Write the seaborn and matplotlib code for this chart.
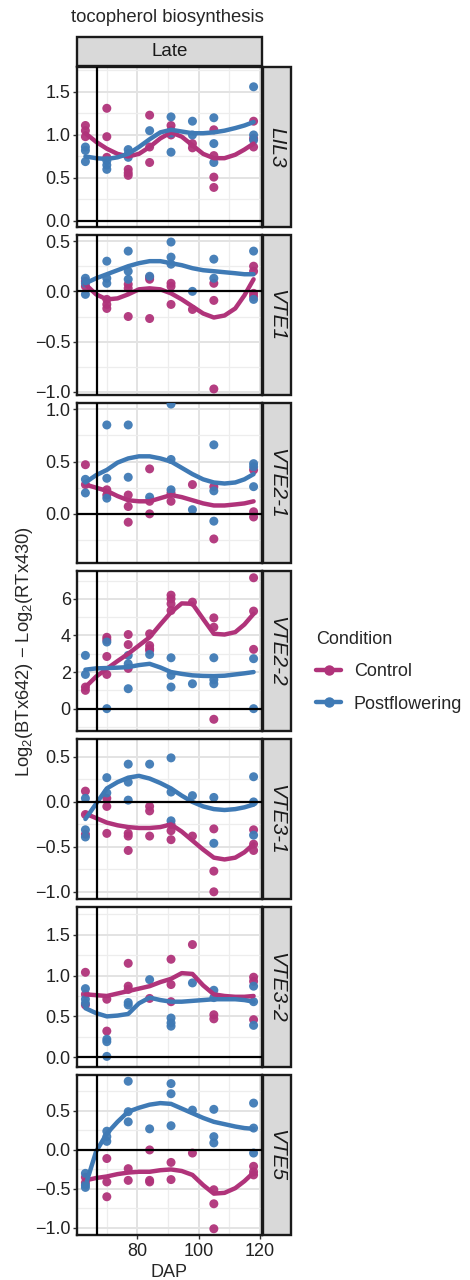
import pandas as pd
import matplotlib
matplotlib.use("Agg")
import matplotlib.pyplot as plt
import seaborn as sns
from matplotlib.patches import Rectangle
from matplotlib.lines import Line2D
from matplotlib.ticker import FixedLocator, FuncFormatter

DAP = [63, 70, 77, 84, 91, 98, 105, 118]
FIT_DAP = [63, 66.5, 70, 73.5, 77, 80.5, 84, 87.5, 91, 94.5, 98, 101.5, 105, 108.5, 112, 115, 118]

GENES = ["LIL3", "VTE1", "VTE2-1", "VTE2-2", "VTE3-1", "VTE3-2", "VTE5"]

# observed points, one list per DAP
LIL3_CTRL = [[1.11, 1.05, 0.98], [1.31, 0.98, 0.74], [0.60, 0.56, 0.53], [1.23, 0.86, 0.68],
             [1.11, 1.05, 1.00], [0.85, 0.90], [1.06, 0.76, 0.51, 0.39], [1.16, 0.96, 0.86]]
LIL3_POST = [[0.86, 0.82, 0.69], [0.70, 0.65, 0.60], [0.83, 0.78, 0.74], [1.05],
             [1.21, 1.02, 0.80], [1.16, 1.00], [1.20, 0.90, 0.68], [1.56, 1.00, 0.94]]
VTE1_CTRL = [[0.10, 0.05], [-0.08, -0.17, -0.13], [0.07, 0.03, -0.25], [0.14, 0.12, -0.27],
             [0.08, 0.05, -0.13], [-0.18], [0.08, -0.09, -0.97], [0.25, 0.20, -0.02, -0.05]]
VTE1_POST = [[0.13, 0.08, -0.03], [0.30, 0.13, 0.08], [0.40, 0.20, 0.12], [0.15],
             [0.49, 0.34, 0.27], [0.00], [0.32, 0.13], [0.40, -0.08]]
VTE2_1_CTRL = [[0.47, 0.28], [0.23, 0.18], [0.18, 0.07, -0.08], [0.43, 0.12, 0.00],
               [0.20, 0.12], [0.28], [0.26, -0.24], [0.42, 0.02, -0.03]]
VTE2_1_POST = [[0.33, 0.20], [0.85, 0.34, 0.15], [0.85, 0.35], [0.16],
               [1.05, 0.52, 0.23], [0.04], [0.66, 0.22, -0.07], [0.48, 0.45, 0.26]]
VTE2_2_CTRL = [[1.18, 1.00], [3.90, 3.76, 2.85, 1.87], [4.05, 3.50, 2.20], [4.09, 3.45, 3.27, 3.18],
               [6.20, 6.00, 5.73, 5.36], [5.82], [4.96, 4.45, -0.58], [7.15, 5.33, 3.24]]
VTE2_2_POST = [[2.91, 1.87], [3.64, 0.00], [2.91, 2.45, 1.09], [2.96],
               [2.78, 1.82, 1.18], [1.36], [2.78, 1.58, 1.36], [2.73, 0.00]]
VTE3_1_CTRL = [[0.12, -0.14, -0.36], [0.04, -0.05, -0.35], [-0.35, -0.38, -0.54], [-0.05, -0.10, -0.38],
               [-0.25, -0.32, -0.42], [-0.38], [-0.30, -0.77, -1.00], [-0.31, -0.47, -0.54]]
VTE3_1_POST = [[0.04, -0.31, -0.39], [0.27, 0.10], [0.42, 0.22, 0.02], [0.42],
               [0.49, 0.11, -0.21], [0.07], [0.05, -0.46], [0.28, 0.00, -0.37]]
VTE3_2_CTRL = [[1.04, 0.77, 0.64], [0.71, 0.32], [1.15, 0.87, 0.83], [0.72],
               [1.20, 0.89, 0.68], [1.38], [0.52, 0.47], [0.98, 0.93, 0.46]]
VTE3_2_POST = [[0.84, 0.71, 0.66], [0.22, 0.19, 0.01], [0.67, 0.64], [0.95],
               [0.48, 0.42, 0.38], [0.91], [0.82, 0.73], [0.87, 0.68, 0.39]]
VTE5_CTRL = [[-0.35, -0.42], [-0.11, -0.41, -0.60], [-0.24, -0.39], [0.00, -0.39, -0.41],
             [-0.16, -0.38], [-0.04], [-0.51, -0.69, -1.01], [-0.21, -0.28, -0.32]]
VTE5_POST = [[-0.30, -0.45, -0.48], [0.24, 0.17, 0.11], [0.88, 0.49, 0.36], [0.27],
             [0.85, 0.72, 0.31], [0.51], [0.52, 0.17, 0.09], [0.60, 0.28, -0.04]]

# smooth curves (values at FIT_DAP)
LIL3_CTRL_FIT = [1.02, 0.92, 0.84, 0.78, 0.75, 0.78, 0.86, 0.96, 1.03, 0.98, 0.88, 0.78, 0.73, 0.73, 0.77, 0.83, 0.90]
LIL3_POST_FIT = [0.75, 0.73, 0.72, 0.74, 0.78, 0.86, 0.95, 1.03, 1.06, 1.04, 1.02, 1.02, 1.03, 1.05, 1.08, 1.11, 1.15]
VTE1_CTRL_FIT = [0.07, -0.03, -0.08, -0.07, -0.03, 0.02, 0.03, 0.02, -0.02, -0.08, -0.15, -0.22, -0.26, -0.24, -0.17, -0.04, 0.12]
VTE1_POST_FIT = [0.08, 0.13, 0.17, 0.21, 0.25, 0.28, 0.30, 0.30, 0.28, 0.26, 0.23, 0.21, 0.20, 0.19, 0.18, 0.17, 0.17]
VTE2_1_CTRL_FIT = [0.28, 0.25, 0.22, 0.17, 0.13, 0.12, 0.12, 0.15, 0.18, 0.16, 0.13, 0.10, 0.08, 0.08, 0.09, 0.10, 0.12]
VTE2_1_POST_FIT = [0.30, 0.37, 0.42, 0.49, 0.53, 0.55, 0.55, 0.53, 0.50, 0.44, 0.38, 0.33, 0.30, 0.29, 0.30, 0.33, 0.38]
VTE2_2_CTRL_FIT = [1.18, 1.75, 2.18, 2.60, 3.00, 3.45, 3.90, 4.60, 5.27, 5.75, 5.73, 4.90, 4.09, 4.05, 4.18, 4.60, 5.18]
VTE2_2_POST_FIT = [2.13, 2.20, 2.22, 2.24, 2.27, 2.38, 2.45, 2.25, 2.00, 1.90, 1.82, 1.79, 1.78, 1.80, 1.87, 1.93, 2.00]
VTE3_1_CTRL_FIT = [-0.13, -0.18, -0.23, -0.26, -0.28, -0.29, -0.29, -0.28, -0.25, -0.33, -0.43, -0.53, -0.62, -0.64, -0.62, -0.56, -0.47]
VTE3_1_POST_FIT = [-0.19, -0.02, 0.15, 0.22, 0.27, 0.29, 0.26, 0.21, 0.15, 0.07, 0.00, -0.05, -0.08, -0.09, -0.08, -0.06, -0.03]
VTE3_2_CTRL_FIT = [0.77, 0.76, 0.75, 0.78, 0.81, 0.84, 0.87, 0.92, 0.96, 1.03, 1.02, 0.88, 0.77, 0.75, 0.74, 0.74, 0.75]
VTE3_2_POST_FIT = [0.60, 0.54, 0.50, 0.51, 0.53, 0.66, 0.73, 0.70, 0.68, 0.68, 0.69, 0.70, 0.71, 0.71, 0.71, 0.70, 0.68]
VTE5_CTRL_FIT = [-0.39, -0.36, -0.34, -0.31, -0.29, -0.28, -0.28, -0.26, -0.25, -0.27, -0.32, -0.45, -0.56, -0.55, -0.49, -0.40, -0.29]
VTE5_POST_FIT = [-0.46, -0.02, 0.21, 0.36, 0.49, 0.54, 0.58, 0.60, 0.59, 0.53, 0.47, 0.41, 0.36, 0.33, 0.30, 0.28, 0.27]

POINTS = {"LIL3": (LIL3_CTRL, LIL3_POST), "VTE1": (VTE1_CTRL, VTE1_POST),
          "VTE2-1": (VTE2_1_CTRL, VTE2_1_POST), "VTE2-2": (VTE2_2_CTRL, VTE2_2_POST),
          "VTE3-1": (VTE3_1_CTRL, VTE3_1_POST), "VTE3-2": (VTE3_2_CTRL, VTE3_2_POST),
          "VTE5": (VTE5_CTRL, VTE5_POST)}
FITS = {"LIL3": (LIL3_CTRL_FIT, LIL3_POST_FIT), "VTE1": (VTE1_CTRL_FIT, VTE1_POST_FIT),
        "VTE2-1": (VTE2_1_CTRL_FIT, VTE2_1_POST_FIT), "VTE2-2": (VTE2_2_CTRL_FIT, VTE2_2_POST_FIT),
        "VTE3-1": (VTE3_1_CTRL_FIT, VTE3_1_POST_FIT), "VTE3-2": (VTE3_2_CTRL_FIT, VTE3_2_POST_FIT),
        "VTE5": (VTE5_CTRL_FIT, VTE5_POST_FIT)}

YLIMS = {"LIL3": (-0.07, 1.79), "VTE1": (-1.03, 0.56), "VTE2-1": (-0.47, 1.06),
         "VTE2-2": (-1.22, 7.52), "VTE3-1": (-1.08, 0.70), "VTE3-2": (-0.12, 1.84),
         "VTE5": (-1.09, 0.96)}
YTICKS = {"LIL3": [0, 0.5, 1, 1.5], "VTE1": [-1, -0.5, 0, 0.5], "VTE2-1": [0, 0.5, 1],
          "VTE2-2": [0, 2, 4, 6], "VTE3-1": [-1, -0.5, 0, 0.5], "VTE3-2": [0, 0.5, 1, 1.5],
          "VTE5": [-1, -0.5, 0, 0.5]}

CONDITIONS = ["Control", "Postflowering"]
PALETTE = {"Control": "#B0337A", "Postflowering": "#3F7AB5"}

# long tables
rows, fit_rows = [], []
for g in GENES:
    for cond, series in zip(CONDITIONS, POINTS[g]):
        for d, vals in zip(DAP, series):
            for v in vals:
                rows.append((g, cond, d, v))
    for cond, fit in zip(CONDITIONS, FITS[g]):
        for d, v in zip(FIT_DAP, fit):
            fit_rows.append((g, cond, d, v))
pts = pd.DataFrame(rows, columns=["gene", "Condition", "DAP", "value"])
fits = pd.DataFrame(fit_rows, columns=["gene", "Condition", "DAP", "value"])

sns.set_style("white")
plt.rcParams['font.family'] = ['Liberation Sans', 'DejaVu Sans']
plt.rcParams['mathtext.fontset'] = 'custom'
plt.rcParams['mathtext.rm'] = 'Liberation Sans'
plt.rcParams['mathtext.it'] = 'Liberation Sans:italic'

W, H = 470, 1280
fig = plt.figure(figsize=(W / 100, H / 100), dpi=100)

left, right = 77, 262
top0, ph, gap = 67, 160, 8
strip_w = 28

axes = []
for i, g in enumerate(GENES):
    top = top0 + i * (ph + gap)
    ax = fig.add_axes([left / W, 1 - (top + ph) / H, (right - left) / W, ph / H])
    axes.append(ax)
    sub = pts[pts.gene == g]
    fsub = fits[fits.gene == g]
    sns.scatterplot(data=sub, x="DAP", y="value", hue="Condition", palette=PALETTE,
                    hue_order=CONDITIONS, s=42, linewidth=0, alpha=0.95, legend=False, ax=ax, zorder=3)
    sns.lineplot(data=fsub, x="DAP", y="value", hue="Condition", palette=PALETTE,
                 hue_order=CONDITIONS, linewidth=3.2, legend=False, ax=ax, zorder=4)
    ax.axhline(0, color="black", lw=1.6, zorder=5)
    ax.axvline(66.7, color="black", lw=1.6, zorder=5)
    ax.set_xlim(60.25, 120.75)
    ax.set_ylim(*YLIMS[g])

    yt = YTICKS[g]
    step = yt[1] - yt[0]
    minor = [t + step / 2 for t in [yt[0] - step] + yt]
    ax.yaxis.set_major_locator(FixedLocator(yt))
    ax.yaxis.set_minor_locator(FixedLocator(minor))
    ax.yaxis.set_major_formatter(FuncFormatter(
        lambda v, p, st=step: ("%d" % v if st >= 1 else "%.1f" % v).replace("-", "\u2212")))
    ax.xaxis.set_major_locator(FixedLocator([80, 100, 120]))
    ax.xaxis.set_minor_locator(FixedLocator([70, 90, 110]))
    ax.grid(which="major", color="#E3E3E3", lw=1.4)
    ax.grid(which="minor", color="#EDEDED", lw=0.9)
    ax.set_axisbelow(True)
    for sp in ax.spines.values():
        sp.set_color("#1A1A1A")
        sp.set_linewidth(1.7)
    ax.tick_params(axis="y", which="major", left=True, length=3, width=1, color="#333333",
                   labelsize=13, labelcolor="#222222", pad=1.5)
    ax.tick_params(axis="x", which="major", bottom=(i == len(GENES) - 1), length=3, width=1,
                   color="#333333", labelsize=13, labelcolor="#222222", pad=2.5,
                   labelbottom=(i == len(GENES) - 1))
    ax.tick_params(which="minor", length=0)
    ax.set_xlabel("")
    ax.set_ylabel("")

    # right-hand strip with gene name
    ax.add_patch(Rectangle((1.0 + 1 / (right - left), 0), strip_w / (right - left), 1,
                           transform=ax.transAxes, clip_on=False, facecolor="#D9D9D9",
                           edgecolor="#1A1A1A", lw=1.7))
    ax.text(1.0 + (1 + strip_w / 2) / (right - left), 0.5, g, transform=ax.transAxes,
            rotation=-90, ha="center", va="center", fontsize=15, style="italic",
            color="#1A1A1A")

# top strip
ax0 = axes[0]
ax0.add_patch(Rectangle((0, 1 + 1 / ph), 1, 29 / ph, transform=ax0.transAxes, clip_on=False,
                        facecolor="#D9D9D9", edgecolor="#1A1A1A", lw=1.7))
ax0.text(0.5, 1 + (1 + 14.5) / ph, "Late", transform=ax0.transAxes, ha="center", va="center",
         fontsize=13.5, color="#1A1A1A")

fig.text(71 / W, 1 - 18 / H, "tocopherol biosynthesis", ha="left", va="center", fontsize=13.3)
axes[-1].set_xlabel("DAP", fontsize=13, labelpad=3)
fig.text(25 / W, 1 - 651 / H, r"Log$_2$(BTx642) $-$ Log$_2$(RTx430)", rotation=90,
         ha="center", va="center", fontsize=13.2)

handles = [Line2D([], [], color=PALETTE[c], lw=3.2, marker="o", markersize=6.5) for c in CONDITIONS]
fig.legend(handles, CONDITIONS, title="Condition", loc="upper left",
           bbox_to_anchor=(316 / W, 1 - 631 / H), frameon=False, fontsize=13,
           title_fontsize=13, handlelength=1.4, handletextpad=0.7, borderpad=0,
           borderaxespad=0, alignment="left", labelspacing=0.85)

fig.savefig("out.png", dpi=100)
